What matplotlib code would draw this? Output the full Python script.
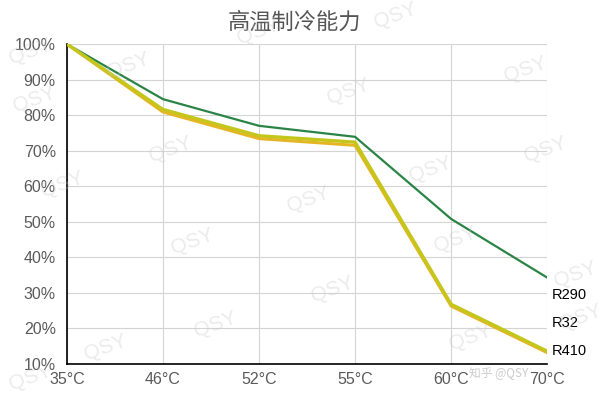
import matplotlib
matplotlib.use("Agg")
import matplotlib.pyplot as plt

categories = ["35°C", "46°C", "52°C", "55°C", "60°C", "70°C"]
r290 = [100, 84.5, 77.0, 73.9, 50.8, 34.3]
r32 = [100, 81.6, 74.2, 72.4, 26.8, 13.6]
r410 = [100, 80.9, 73.4, 71.5, 26.3, 13.2]
series_names = ["R290", "R32", "R410"]
label_y = [29.4, 21.5, 13.7]
yticks = [10, 20, 30, 40, 50, 60, 70, 80, 90, 100]

plt.rcParams['font.family'] = ['Liberation Sans', 'Noto Sans CJK SC', 'DejaVu Sans']

fig = plt.figure(figsize=(6.08, 3.96), dpi=100)
ax = fig.add_axes([0.110, 0.0808, 0.790, 0.808])
x = list(range(len(categories)))

ax.plot(x, r290, color="#2a8445", lw=1.6, zorder=3)
ax.plot(x, r410, color="#e6b523", lw=2.2, zorder=3)
ax.plot(x, r32, color="#c4c61c", lw=2.4, zorder=4)

ax.set_xlim(0, 5)
ax.set_ylim(10, 100)
ax.set_xticks(x)
ax.set_xticklabels(categories)
ax.set_yticks(yticks)
ax.set_yticklabels([f"{v}%" for v in yticks])
ax.tick_params(length=0, labelsize=11.5, labelcolor="#5a5a5a", pad=8)
ax.tick_params(axis='x', pad=6)
ax.grid(True, color="#d4d4d4", lw=0.8)
ax.set_axisbelow(True)
for s in ["top", "right"]:
    ax.spines[s].set_visible(False)
for s in ["left", "bottom"]:
    ax.spines[s].set_color("black")
    ax.spines[s].set_linewidth(1.2)

for name, yv in zip(series_names, label_y):
    ax.text(5.05, yv, name, fontsize=10.5, color="black", va="center", ha="left", clip_on=False)

fig.text(0.485, 0.944, "高温制冷能力", fontsize=16, color="#555555", ha="center", va="center",
         family=['Noto Sans CJK SC', 'DejaVu Sans'])

# watermarks
wm = [(30, 52), (258, 32), (395, 16), (128, 66), (525, 70), (34, 100), (348, 92),
      (170, 150), (430, 170), (545, 150), (62, 185), (308, 200), (192, 242),
      (455, 240), (575, 275), (332, 290), (215, 325), (105, 348), (470, 338),
      (30, 378), (580, 318)]
for px, py in wm:
    fig.text(px / 608, 1 - py / 396, "QSY", fontsize=15, color="#c8c8c8", alpha=0.35,
             rotation=20, ha="center", va="center")
fig.text(499 / 608, 1 - 374 / 396, "知乎 @QSY", fontsize=8.5, color="#aaaaaa", alpha=0.6,
         ha="center", va="center", family=['Noto Sans CJK SC', 'DejaVu Sans'])

fig.savefig("out.png", dpi=100)
